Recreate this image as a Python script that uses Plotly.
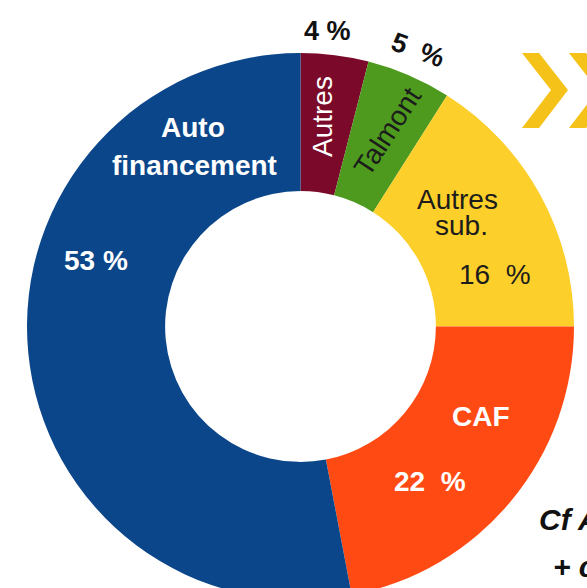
import plotly.graph_objects as go

# ---- data ----
labels = ["Autres", "Talmont", "Autres sub.", "CAF", "Auto financement"]
values = [4, 5, 16, 22, 53]
colors = ["#7B0A2A", "#4E9A1E", "#FDCF2A", "#FF4A14", "#0B468A"]
notes = ["Cf A", "+ c"]

# ---- geometry (pixels) ----
W, H = 587, 600
CX, CY, R = 300.5, 326.5, 273.5
HOLE = 0.495


def px(x, y):
    return x / W, 1 - y / H


fig = go.Figure(
    go.Pie(
        labels=labels,
        values=values,
        sort=False,
        direction="clockwise",
        rotation=0,
        hole=HOLE,
        marker=dict(colors=colors, line=dict(width=0)),
        textinfo="none",
        hoverinfo="label+percent",
        showlegend=False,
        domain=dict(x=[(CX - R) / W, (CX + R) / W],
                    y=[1 - (CY + R) / H, 1 - (CY - R) / H]),
    )
)

FONT = "Liberation Sans, Arial, sans-serif"
WHITE = "#ffffff"
DARK = "#1c1c1c"
NB = "\u00a0"

auto_l = labels[4].split()
sub_l = labels[2].split()

# (text, x, y, color, weight, angle, size)
label_specs = [
    (auto_l[0], 193, 127, WHITE, "bold", 0, 28),
    (auto_l[1], 194, 166, WHITE, "bold", 0, 28),
    (f"{values[4]} %", 96, 260, WHITE, "bold", 0, 28),
    (sub_l[0], 457, 199, DARK, "normal", 0, 28),
    (sub_l[1], 462, 225, DARK, "normal", 0, 28),
    (f"{values[2]}{NB}{NB}%", 495, 275, DARK, "normal", 0, 28),
    (labels[3], 481, 417, WHITE, "bold", 0, 28),
    (f"{values[3]}{NB}{NB}%", 430, 481, WHITE, "bold", 0, 28),
    (labels[0], 322, 117, WHITE, "normal", -90, 28),
    (f"{values[0]} %", 327, 31, "#111111", "bold", 0, 27),
    (labels[1], 388, 132, DARK, "normal", -57, 28),
    (f"{values[1]}{NB}{NB}%", 418, 50, "#111111", "bold", 20, 27),
]

annotations = []
for text, x, y, col, wt, ang, sz in label_specs:
    ax, ay = px(x, y)
    annotations.append(dict(
        text=text, x=ax, y=ay, xref="paper", yref="paper",
        xanchor="center", yanchor="middle", showarrow=False,
        textangle=ang,
        font=dict(family=FONT, size=sz, color=col, weight=wt),
    ))

for text, x, y in [(notes[0], 537, 519), (notes[1], 551, 566)]:
    ax, ay = px(x, y)
    annotations.append(dict(
        text=text, x=ax, y=ay, xref="paper", yref="paper",
        xanchor="left", yanchor="middle", showarrow=False,
        font=dict(family=FONT, size=30, color="#111111", weight="bold",
                  style="italic"),
    ))

# decorative chevrons (top right)
shapes = []
chev = [(522, 53), (539, 53), (568, 90), (539, 128), (522, 128), (551, 90)]
for off in (0, 47):
    pts = [px(x + off, y) for x, y in chev]
    path = "M " + " L ".join(f"{a:.5f},{b:.5f}" for a, b in pts) + " Z"
    shapes.append(dict(type="path", path=path, xref="paper", yref="paper",
                       fillcolor="#F5C21A", line=dict(width=0), layer="above"))

fig.update_layout(
    width=W, height=H,
    margin=dict(l=0, r=0, t=0, b=0),
    paper_bgcolor="#ffffff",
    plot_bgcolor="#ffffff",
    annotations=annotations,
    shapes=shapes,
)

fig.write_html("out.html")
